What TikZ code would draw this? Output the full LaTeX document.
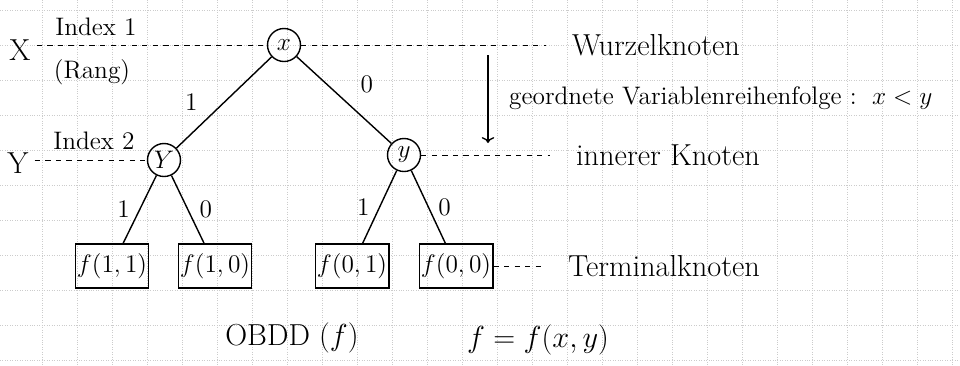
\documentclass[tikz,border=0pt]{standalone}
\usetikzlibrary{positioning, arrows.meta}

\tikzset{
    var/.style={draw, circle, thick, minimum size=0.66cm, inner sep=0pt, font=\Large},
    term/.style={draw, rectangle, thick, minimum width=1.46cm, minimum height=0.88cm, inner sep=1pt, font=\Large},
    lab/.style={font=\LARGE},
    small/.style={font=\Large},
    lvl/.style={dashed, thin, shorten >=4mm},
}

\begin{document}
\begin{tikzpicture}[x=0.2mm, y=-0.2mm]
    \useasboundingbox (0,0) rectangle (960,365);

    % graph paper
    \foreach \gx in {42,77,...,952}
        \draw[gray!40, densely dotted] (\gx,0) -- (\gx,365);
    \foreach \gy in {10,45,...,360}
        \draw[gray!40, densely dotted] (0,\gy) -- (960,\gy);

    % decision nodes
    \node[var] (x) at (284,45) {$x$};
    \node[var] (yl) at (164,160) {$Y$};
    \node[var] (yr) at (404,155) {$y$};

    % terminal nodes
    \node[term] (t11) at (112,266) {$f(1,1)$};
    \node[term] (t10) at (215,266) {$f(1,0)$};
    \node[term] (t01) at (352,266) {$f(0,1)$};
    \node[term] (t00) at (456,266) {$f(0,0)$};

    % edges
    \draw[thick] (x) -- node[small, left=4mm] {1} (yl);
    \draw[thick] (x) -- node[small, above right=0mm and 2mm] {0} (yr);
    \draw[thick] (yl) -- node[small, left=2pt] {1} (t11);
    \draw[thick] (yl) -- node[small, right=3pt] {0} (t10);
    \draw[thick] (yr) -- node[small, left=2pt] {1} (t01);
    \draw[thick] (yr) -- node[small, right=2pt] {0} (t00);

    % levels on the left
    \node[lab] (lx) at (20,50) {X};
    \node[lab] (ly) at (18,163) {Y};
    \node[small] (idx1) at (96,27) {Index 1};
    \node[small] (rang) at (92,72) {(Rang)};
    \node[small] (idx2) at (94,141) {Index 2};
    \draw[dashed, thin] (lx.east |- x) -- (x);
    \draw[dashed, thin] (ly.east |- yl) -- (yl);

    % comments on the right
    \node[lab] (wurzel) at (656,45) {Wurzelknoten};
    \node[lab] (inner) at (668,155) {innerer Knoten};
    \node[lab] (termk) at (664,266) {Terminalknoten};
    \draw[lvl] (x) -- (wurzel);
    \draw[lvl] (yr) -- (inner);
    \draw[lvl] (t00) -- (termk);

    \coordinate (top) at (488,55);
    \coordinate (bot) at (488,143);
    \draw[->, thick] (top) -- (bot);
    \node[small, anchor=west] (order) at (503,98) {geordnete Variablenreihenfolge : \,$x<y$};

    % bottom
    \node[lab] (obdd) at (292,338) {OBDD $(f)$};
    \node[lab] (fdef) at (538,340) {$f = f(x,y)$};
\end{tikzpicture}
\end{document}
